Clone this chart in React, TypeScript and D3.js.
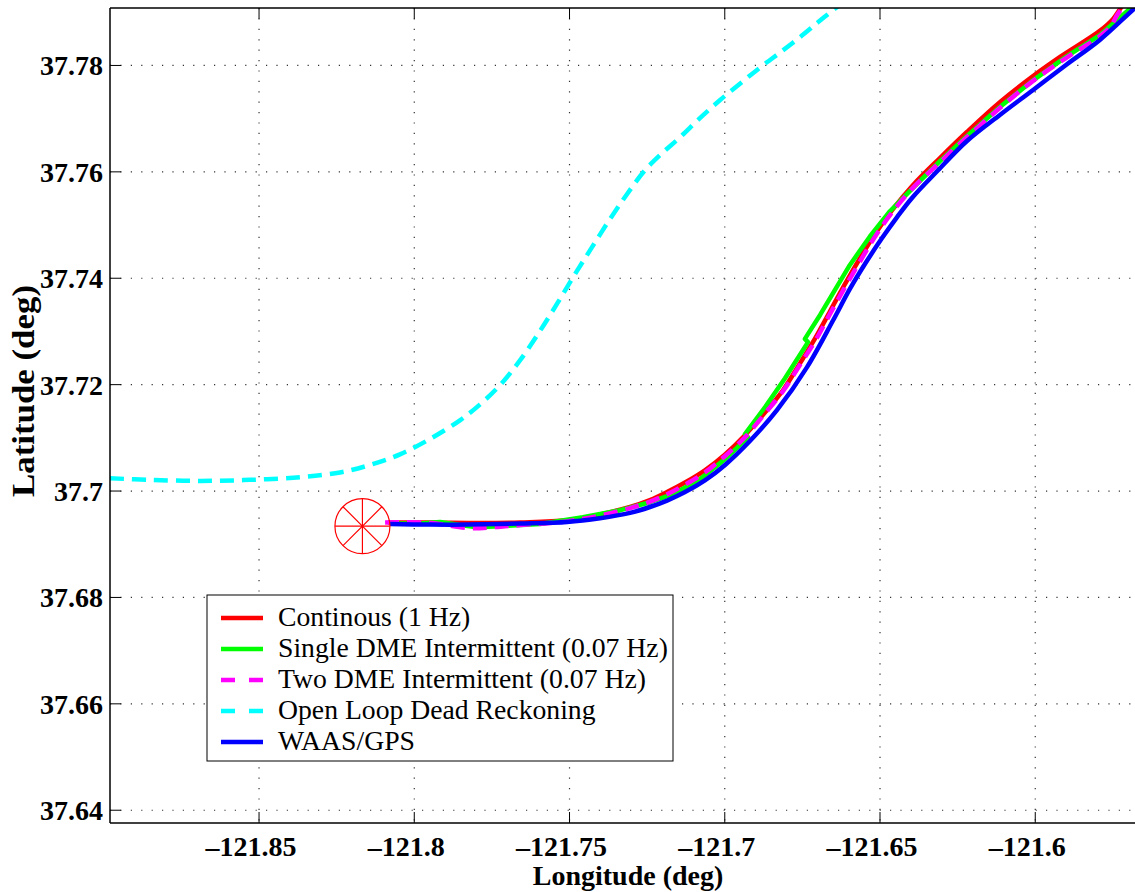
import React from "react";
import * as d3 from "d3";

// ---- data (longitude, latitude in degrees) ----
const lonTicks = [-121.85, -121.8, -121.75, -121.7, -121.65, -121.6];
const lonTickLabels = ["\u2013121.85", "\u2013121.8", "\u2013121.75", "\u2013121.7", "\u2013121.65", "\u2013121.6"];
const latTicks = [37.64, 37.66, 37.68, 37.7, 37.72, 37.74, 37.76, 37.78];
const latTickLabels = ["37.64", "37.66", "37.68", "37.7", "37.72", "37.74", "37.76", "37.78"];

const continuousLon = [-121.8085, -121.7949, -121.7788, -121.7659, -121.7508, -121.7402, -121.7305, -121.7241, -121.7186, -121.7128, -121.7064, -121.6999, -121.6935, -121.687, -121.6812, -121.6758, -121.6709, -121.6661, -121.6613, -121.6564, -121.6516, -121.6461, -121.6397, -121.6307, -121.622, -121.6114, -121.6007, -121.592, -121.5792, -121.575, -121.5727, -121.5708];
const continuousLat = [37.6941, 37.6941, 37.694, 37.6941, 37.6945, 37.6956, 37.697, 37.6983, 37.6998, 37.7016, 37.7039, 37.7069, 37.7105, 37.7148, 37.719, 37.724, 37.7287, 37.7338, 37.7389, 37.7438, 37.7483, 37.7528, 37.7573, 37.7626, 37.7675, 37.7731, 37.778, 37.7816, 37.7865, 37.7887, 37.7906, 37.7923];

const singleDmeLon = [-121.8078, -121.7981, -121.7917, -121.7853, -121.7798, -121.7724, -121.7595, -121.7457, -121.7337, -121.7241, -121.7167, -121.708, -121.6999, -121.6925, -121.6935, -121.687, -121.6806, -121.6732, -121.6742, -121.6693, -121.6645, -121.6597, -121.6532, -121.6468, -121.6397, -121.6307, -121.622, -121.6114, -121.6007, -121.5901, -121.5792, -121.5663];
const singleDmeLat = [37.6939, 37.6939, 37.6942, 37.6936, 37.6932, 37.6934, 37.6938, 37.6951, 37.6964, 37.6979, 37.6994, 37.7022, 37.706, 37.7101, 37.7107, 37.7158, 37.7212, 37.728, 37.7286, 37.7331, 37.7378, 37.7425, 37.7479, 37.7526, 37.7568, 37.762, 37.7667, 37.7722, 37.7772, 37.7816, 37.7857, 37.7923];

const twoDmeLon = [-121.8094, -121.7949, -121.782, -121.7746, -121.7659, -121.7508, -121.7402, -121.7305, -121.7241, -121.7186, -121.7128, -121.7064, -121.6999, -121.6935, -121.687, -121.6812, -121.6758, -121.6709, -121.6661, -121.6613, -121.6564, -121.6513, -121.6458, -121.6397, -121.6307, -121.622, -121.6114, -121.6007, -121.5901, -121.5792, -121.5759, -121.5734, -121.5711, -121.5663];
const twoDmeLat = [37.6941, 37.694, 37.693, 37.6932, 37.6936, 37.6943, 37.6954, 37.6968, 37.698, 37.6994, 37.7012, 37.7035, 37.7066, 37.7101, 37.7146, 37.7188, 37.7237, 37.7282, 37.7333, 37.7383, 37.7432, 37.7481, 37.7526, 37.7568, 37.7618, 37.7665, 37.772, 37.7771, 37.7814, 37.7855, 37.7872, 37.7897, 37.7913, 37.7932];

const deadReckLon = [-121.898, -121.8851, -121.869, -121.8529, -121.8368, -121.8239, -121.8143, -121.8046, -121.7949, -121.7853, -121.7788, -121.7724, -121.7659, -121.7595, -121.7537, -121.7482, -121.7428, -121.737, -121.7315, -121.7257, -121.7202, -121.7144, -121.708, -121.7015, -121.6944, -121.688, -121.6816, -121.6758, -121.67, -121.6651, -121.6564];
const deadReckLat = [37.7024, 37.7021, 37.7019, 37.7021, 37.7026, 37.7035, 37.7049, 37.7069, 37.7098, 37.7133, 37.7163, 37.7199, 37.7246, 37.7301, 37.7355, 37.7408, 37.7458, 37.7511, 37.7558, 37.7603, 37.7635, 37.7665, 37.7701, 37.7735, 37.7769, 37.7799, 37.7827, 37.7853, 37.7881, 37.7904, 37.7944];

const waasLon = [-121.8078, -121.7949, -121.783, -121.7659, -121.7508, -121.7402, -121.7305, -121.7241, -121.7186, -121.7128, -121.7064, -121.6999, -121.6919, -121.6832, -121.6735, -121.6651, -121.6597, -121.6545, -121.6494, -121.6445, -121.6397, -121.6313, -121.622, -121.6114, -121.6007, -121.5901, -121.5792, -121.5679, -121.563];
const waasLat = [37.6938, 37.6937, 37.6937, 37.6939, 37.6942, 37.6949, 37.6959, 37.697, 37.6982, 37.6998, 37.702, 37.7049, 37.7094, 37.7152, 37.7233, 37.7321, 37.738, 37.743, 37.7475, 37.7515, 37.7551, 37.7603, 37.7658, 37.7707, 37.7754, 37.7801, 37.7848, 37.7908, 37.7932];

const startLon = -121.8167;
const startLat = 37.6934;

const seriesNames = [
  "Continous (1 Hz)",
  "Single DME Intermittent (0.07 Hz)",
  "Two DME Intermittent (0.07 Hz)",
  "Open Loop Dead Reckoning",
  "WAAS/GPS",
];
const seriesColors = ["#ff0000", "#00ff00", "#ff00ff", "#00ffff", "#0000ff"];
const seriesDashed = [false, false, true, true, false];

const FONT = "'Liberation Serif', 'Times New Roman', Times, serif";

export default function App() {
  const W = 1135;
  const H = 892;
  const left = 110, top = 8, bottom = 823, rightEdge = 1190.5;
  const x = d3.scaleLinear().domain([-121.898, -121.55]).range([left, rightEdge]);
  const y = d3.scaleLinear().domain([37.6376, 37.7908]).range([bottom, top]);

  const zip = (a: number[], b: number[]) => a.map((v, i) => [v, b[i]] as [number, number]);
  const series = [
    { pts: zip(continuousLon, continuousLat), smooth: true },
    { pts: zip(singleDmeLon, singleDmeLat), smooth: false },
    { pts: zip(twoDmeLon, twoDmeLat), smooth: true },
    { pts: zip(deadReckLon, deadReckLat), smooth: true },
    { pts: zip(waasLon, waasLat), smooth: true },
  ];

  const lineGen = (smooth: boolean) =>
    d3
      .line<[number, number]>()
      .x((d) => x(d[0]))
      .y((d) => y(d[1]))
      .curve(smooth ? d3.curveCatmullRom.alpha(0.5) : d3.curveLinear);

  const cx = x(startLon);
  const cy = y(startLat);
  const r = 27.5;

  const legX = 207, legY = 595, legW = 466, legH = 166;
  const rowBase = [626, 657, 688, 719, 750];

  return (
    <svg width={W} height={H} style={{ position: "absolute", left: 0, top: 0, background: "#fff" }}>
      <defs>
        <clipPath id="plotClip">
          <rect x={left} y={top} width={rightEdge - left} height={bottom - top} />
        </clipPath>
      </defs>
      <rect x={0} y={0} width={W} height={H} fill="#fff" />
      {/* grid */}
      <g stroke="#333" strokeWidth={1.2} strokeDasharray="1.2 9.2">
        {lonTicks.map((t, i) => (
          <line key={"gx" + i} x1={x(t)} x2={x(t)} y1={top} y2={bottom} />
        ))}
        {latTicks.map((t, i) => (
          <line key={"gy" + i} x1={left} x2={rightEdge} y1={y(t)} y2={y(t)} />
        ))}
      </g>
      {/* series */}
      <g clipPath="url(#plotClip)" fill="none">
        {series.map((s, i) => (
          <path
            key={"s" + i}
            d={lineGen(s.smooth)(s.pts) || ""}
            stroke={seriesColors[i]}
            strokeWidth={4.5}
            strokeDasharray={seriesDashed[i] ? "14 8" : undefined}
            strokeLinejoin="round"
          />
        ))}
        {/* start marker */}
        <g stroke="#ff0000" strokeWidth={1.2}>
          <circle cx={cx} cy={cy} r={r} fill="none" />
          {[0, 45, 90, 135].map((a) => {
            const rad = (a * Math.PI) / 180;
            return (
              <line
                key={"m" + a}
                x1={cx - r * Math.cos(rad)}
                y1={cy - r * Math.sin(rad)}
                x2={cx + r * Math.cos(rad)}
                y2={cy + r * Math.sin(rad)}
              />
            );
          })}
        </g>
      </g>
      {/* frame */}
      <g stroke="#000" strokeWidth={1.5}>
        <line x1={left} x2={W} y1={top} y2={top} />
        <line x1={left} x2={W} y1={bottom} y2={bottom} />
        <line x1={left} x2={left} y1={top} y2={bottom} />
      </g>
      {/* ticks */}
      <g stroke="#000" strokeWidth={1}>
        {lonTicks.map((t, i) => (
          <g key={"tx" + i}>
            <line x1={x(t)} x2={x(t)} y1={bottom} y2={bottom - 11} />
            <line x1={x(t)} x2={x(t)} y1={top} y2={top + 11} />
          </g>
        ))}
        {latTicks.map((t, i) => (
          <line key={"ty" + i} x1={left} x2={left + 11} y1={y(t)} y2={y(t)} />
        ))}
      </g>
      {/* tick labels */}
      <g fontFamily={FONT} fontWeight="bold" fontSize={28} fill="#000">
        {lonTicks.map((t, i) => (
          <text key={"lx" + i} x={x(t) - 8} y={856} textAnchor="middle">
            {lonTickLabels[i]}
          </text>
        ))}
        {latTicks.map((t, i) => (
          <text key={"ly" + i} x={103} y={y(t) + 10} textAnchor="end">
            {latTickLabels[i]}
          </text>
        ))}
        <text x={628} y={885} textAnchor="middle">
          Longitude (deg)
        </text>
        <text
          transform={`translate(34, 391) rotate(-90)`}
          textAnchor="middle"
          fontSize={31}
          textLength={212}
          lengthAdjust="spacingAndGlyphs"
        >
          Latitude (deg)
        </text>
      </g>
      {/* legend */}
      <g>
        <rect x={legX} y={legY} width={legW} height={legH} fill="#fff" stroke="#000" strokeWidth={1} />
        {seriesNames.map((name, i) => (
          <g key={"lg" + i}>
            <line
              x1={221}
              x2={263}
              y1={rowBase[i] - 8}
              y2={rowBase[i] - 8}
              stroke={seriesColors[i]}
              strokeWidth={4.5}
              strokeDasharray={seriesDashed[i] ? "14 14" : undefined}
            />
            <text x={278} y={rowBase[i]} fontFamily={FONT} fontSize={27.7} fill="#000">
              {name}
            </text>
          </g>
        ))}
      </g>
    </svg>
  );
}
